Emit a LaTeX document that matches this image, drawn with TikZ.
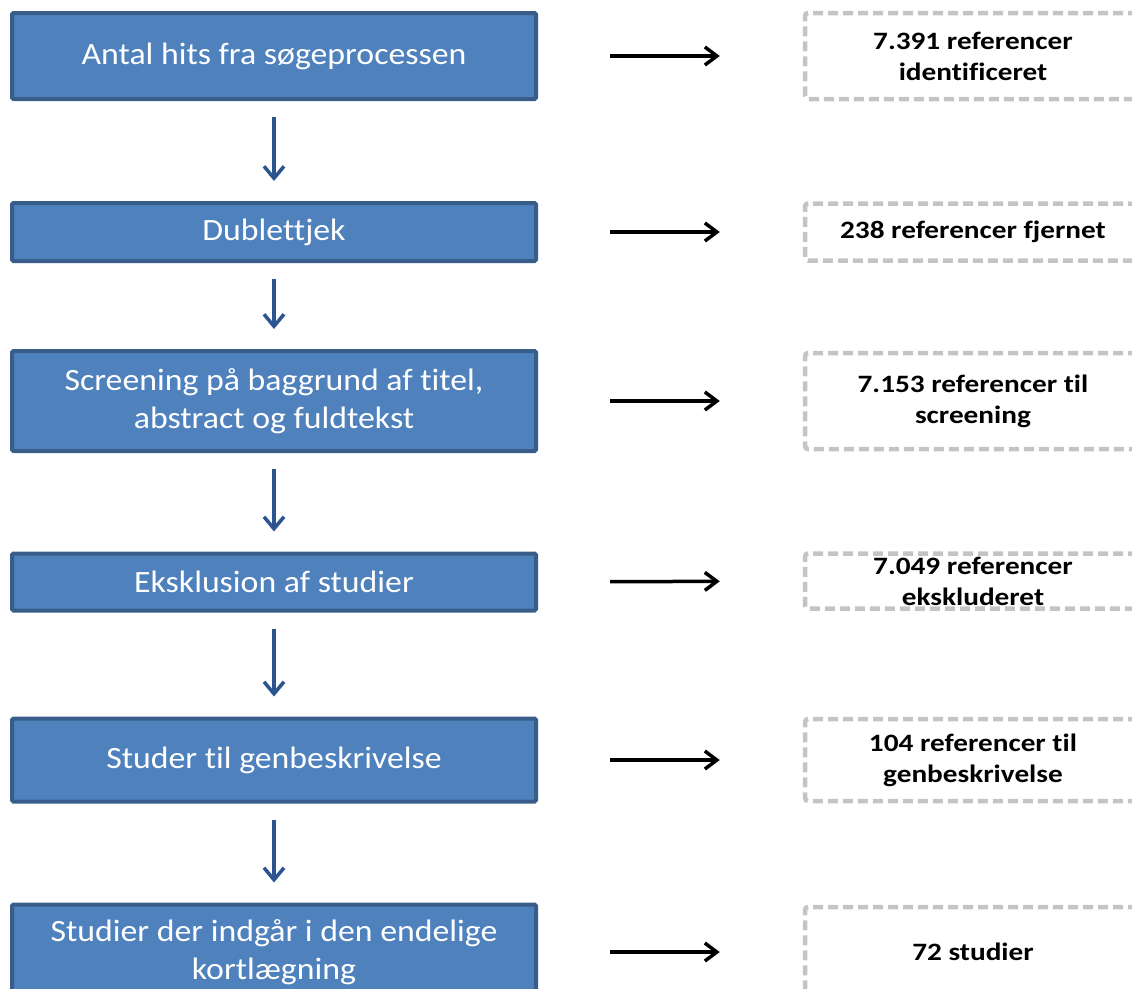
\documentclass[tikz,border=0pt]{standalone}
\usepackage{fontspec}
\setmainfont[FakeStretch=1.09,Ligatures=NoCommon]{Carlito}
\newfontfamily\reffont[FakeStretch=1.17,Ligatures=NoCommon]{Carlito}
\usetikzlibrary{arrows.meta,positioning}
\definecolor{boxblue}{HTML}{4F81BD}
\definecolor{boxedge}{HTML}{385D8A}
\definecolor{arrowblue}{HTML}{2B5591}
\definecolor{dashgray}{HTML}{C4C4C4}

\begin{document}
\begin{tikzpicture}[x=1pt,y=-1pt,
  stepbox/.style={rectangle,fill=boxblue,draw=boxedge,line width=4pt,rounded corners=1.5pt,
    minimum width=524pt,text=white,align=center,inner sep=0pt,font=\fontsize{31}{38}\selectfont},
  refbox/.style={rectangle,draw=dashgray,line width=4.5pt,dash pattern=on 10pt off 5pt,rounded corners=3pt,
    minimum width=336pt,align=center,inner sep=0pt,font=\reffont\bfseries\fontsize{25}{31}\selectfont},
  downarrow/.style={draw=arrowblue,line width=3.5pt,-{Straight Barb[length=12pt,width=20pt]},
    shorten <=16pt,shorten >=20pt},
  sidearrow/.style={draw=black,line width=3.5pt,-{Straight Barb[length=12pt,width=18pt]},
    shorten <=72pt,shorten >=83pt}]
\useasboundingbox (0,0) rectangle (1132,988);
\clip (0,0) rectangle (1132,988);

% steps
\node[stepbox,minimum height=86pt] (s1) at (274,56) {Antal hits fra søgeprocessen};
\node[stepbox,minimum height=58pt] (s2) at (274,232) {Dublettjek};
\node[stepbox,minimum height=100pt] (s3) at (274,401) {Screening på baggrund af titel,\\abstract og fuldtekst};
\node[stepbox,minimum height=57pt] (s4) at (274,582) {Eksklusion af studier};
\node[stepbox,minimum height=83pt] (s5) at (274,760) {Studer til genbeskrivelse};
\node[stepbox,minimum height=95pt] (s6) at (274,952) {Studier der indgår i den endelige\\kortlægning};

% results
\node[refbox,minimum height=86pt] (r1) at (973,56) {7.391 referencer\\identificeret};
\node[refbox,minimum height=57pt] (r2) at (973,232) {238 referencer fjernet};
\node[refbox,minimum height=96pt] (r3) at (973,401) {7.153 referencer til\\screening};
\node[refbox,minimum height=55pt] (r4) at (973,581) {7.049 referencer\\ekskluderet};
\node[refbox,minimum height=82pt] (r5) at (973,760) {104 referencer til\\genbeskrivelse};
\node[refbox,minimum height=90pt] (r6) at (973,952) {72 studier};

\foreach \a/\b in {s1/s2,s2/s3,s3/s4,s4/s5,s5/s6}
  \draw[downarrow] (\a.south) -- (\b.north);
\foreach \i in {1,...,6}
  \draw[sidearrow] (s\i.east) -- (r\i.west);
\end{tikzpicture}
\end{document}
